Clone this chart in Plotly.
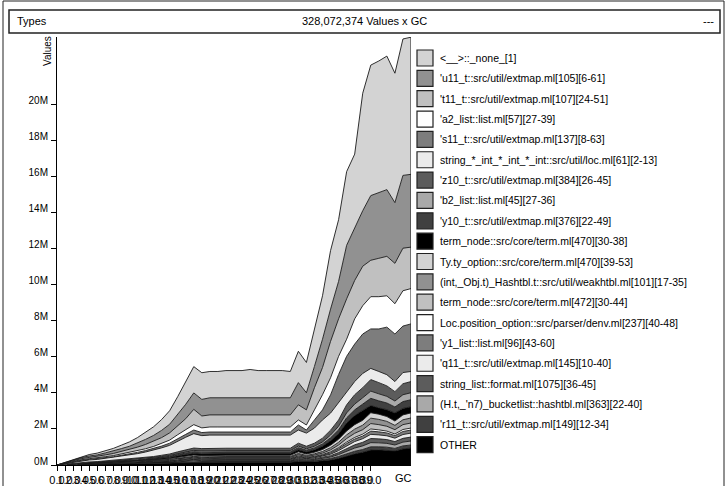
import plotly.graph_objects as go

# ---------------- data (values in millions) ----------------
gc = list(range(45))
x_tick_vals = list(range(40))
x_tick_text = [f"{v}.0" for v in x_tick_vals]
y_tick_vals = [0, 2, 4, 6, 8, 10, 12, 14, 16, 18, 20]
y_tick_text = ["0M", "2M", "4M", "6M", "8M", "10M", "12M", "14M", "16M", "18M", "20M"]

names = [
    "<__>::_none_[1]",
    "'u11_t::src/util/extmap.ml[105][6-61]",
    "'t11_t::src/util/extmap.ml[107][24-51]",
    "'a2_list::list.ml[57][27-39]",
    "'s11_t::src/util/extmap.ml[137][8-63]",
    "string_*_int_*_int_*_int::src/util/loc.ml[61][2-13]",
    "'z10_t::src/util/extmap.ml[384][26-45]",
    "'b2_list::list.ml[45][27-36]",
    "'y10_t::src/util/extmap.ml[376][22-49]",
    "term_node::src/core/term.ml[470][30-38]",
    "Ty.ty_option::src/core/term.ml[470][39-53]",
    "(int,_Obj.t)_Hashtbl.t::src/util/weakhtbl.ml[101][17-35]",
    "term_node::src/core/term.ml[472][30-44]",
    "Loc.position_option::src/parser/denv.ml[237][40-48]",
    "'y1_list::list.ml[96][43-60]",
    "'q11_t::src/util/extmap.ml[145][10-40]",
    "string_list::format.ml[1075][36-45]",
    "(H.t,_'n7)_bucketlist::hashtbl.ml[363][22-40]",
    "'r11_t::src/util/extmap.ml[149][12-34]",
    "OTHER",
]

none_v = [0, .01, .03, .06, .08, .10, .12, .15, .19, .24, .30, .38, .48, .60, .75, .98, 1.25,
          1.46, 1.48, 1.46, 1.46, 1.51, 1.51, 1.51, 1.57, 1.51, 1.51, 1.51, 1.51, 1.46,
          1.74, 1.68, 2.08, 2.41, 3.25, 3.42, 4.09, 4.09, 6.52, 7.24, 7.30, 7.41, 7.18, 7.57, 7.61]
u11_v = [0, .02, .04, .06, .08, .09, .11, .13, .16, .19, .23, .28, .33, .40, .48, .63, .80,
         .91, .92, .95, .95, .95, .95, .95, .95, .95, .95, .95, .95, .95,
         1.23, .95, 1.18, 1.57, 1.79, 2.08, 2.97, 2.92, 3.08, 3.59, 3.65, 3.70, 3.37, 4.04, 4.04]
t11_v = [0, .02, .04, .06, .07, .08, .10, .12, .14, .17, .20, .24, .28, .33, .40, .50, .62,
         .85, .66, .67, .67, .67, .67, .67, .67, .67, .67, .67, .67, .67,
         .84, .84, 1.23, 1.51, 2.02, 2.08, 2.24, 2.13, 2.19, 2.02, 2.13, 2.19, 2.24, 2.36, 2.30]
a2_v = [0, .01, .02, .03, .04, .04, .05, .06, .07, .08, .09, .10, .12, .14, .17, .21, .25,
        .30, .26, .28, .28, .28, .28, .28, .28, .28, .28, .28, .28, .28,
        .28, .28, .56, .84, .95, 1.01, .95, 1.40, 1.57, 1.79, 1.79, 1.74, 1.68, 1.96, 1.96]
s11_v = [0, .01, .02, .03, .03, .04, .04, .05, .05, .06, .07, .08, .09, .10, .12, .14, .16,
         .20, .17, .17, .17, .17, .17, .17, .17, .17, .17, .17, .17, .17,
         .28, .17, .45, .56, 1.01, 1.57, 1.96, 2.08, 2.19, 2.19, 2.36, 2.64, 2.64, 2.58, 2.64]
str3_v = [0, .03, .06, .09, .11, .12, .14, .16, .19, .22, .26, .30, .35, .41, .48, .60, .70,
          .80, .72, .73, .73, .73, .73, .73, .73, .73, .73, .73, .73, .73,
          .73, .73, .84, 1.01, .95, .95, .73, .73, .79, .62, .62, .62, .56, .62, .56]
z10_v = [0, .01, .01, .02, .02, .02, .03, .03, .04, .04, .05, .05, .06, .07, .08, .10, .12, .13, .13,
         .13, .13, .13, .13, .13, .13, .13, .13, .13, .13, .13,
         .16, .14, .17, .21, .27, .35, .45, .52, .56, .64, .62, .58, .52, .61, .62]
b2_v = [0, 0, .01, .01, .01, .01, .02, .02, .02, .02, .03, .03, .03, .04, .05, .05, .06, .07, .07,
        .07, .07, .07, .07, .07, .07, .07, .07, .07, .07, .07,
        .09, .08, .09, .11, .15, .20, .27, .32, .35, .40, .39, .37, .33, .38, .39]
y10_v = [0, 0, .01, .01, .01, .02, .02, .02, .03, .03, .03, .04, .04, .05, .06, .07, .08, .09, .09,
         .09, .09, .09, .09, .09, .09, .09, .09, .09, .09, .09,
         .11, .10, .10, .13, .17, .22, .28, .32, .35, .40, .39, .37, .33, .38, .39]
tn470_v = [0, .01, .01, .01, .02, .02, .02, .02, .03, .03, .04, .04, .05, .06, .06, .08, .09, .10, .10,
           .10, .10, .10, .10, .10, .10, .10, .10, .10, .10, .10,
           .12, .11, .14, .18, .24, .30, .45, .50, .55, .40, .35, .38, .45, .36, .34]
tyopt_v = [0, 0, 0, .01, .01, .01, .02, .02, .02, .02, .03, .03, .03, .04, .05, .06, .06, .07, .07,
           .07, .07, .07, .07, .07, .07, .07, .07, .07, .07, .07,
           .09, .08, .09, .11, .14, .17, .22, .25, .27, .30, .29, .27, .24, .27, .28]
intobj_v = [0, 0, 0, .01, .01, .01, .01, .01, .01, .02, .02, .02, .02, .03, .03, .04, .05, .05, .05,
            .05, .05, .05, .05, .05, .05, .05, .05, .05, .05, .05,
            .07, .06, .07, .09, .12, .15, .20, .23, .25, .30, .29, .27, .24, .27, .28]
tn472_v = [0, 0, 0, .01, .01, .01, .01, .01, .02, .02, .02, .02, .02, .03, .03, .04, .04, .05, .05,
           .05, .05, .05, .05, .05, .05, .05, .05, .05, .05, .05,
           .07, .05, .07, .08, .11, .15, .20, .23, .25, .30, .29, .27, .24, .27, .28]
locpos_v = [0, 0, 0, 0, 0, .01, .01, .01, .01, .01, .01, .01, .02, .02, .02, .02, .03, .03, .03,
            .03, .03, .03, .03, .03, .03, .03, .03, .03, .03, .03,
            .04, .03, .03, .04, .05, .06, .08, .09, .10, .12, .11, .10, .09, .11, .11]
y1_v = [0, 0, 0, 0, .01, .01, .01, .01, .01, .01, .01, .02, .02, .02, .03, .03, .04, .04, .04,
        .04, .04, .04, .04, .04, .04, .04, .04, .04, .04, .04,
        .05, .04, .05, .06, .08, .10, .12, .14, .15, .18, .17, .16, .14, .17, .17]
q11_v = [0, 0, 0, 0, .01, .01, .01, .01, .01, .01, .02, .02, .02, .02, .03, .03, .04, .04, .04,
         .04, .04, .04, .04, .04, .04, .04, .04, .04, .04, .04,
         .05, .04, .05, .06, .08, .11, .15, .18, .20, .23, .22, .21, .19, .21, .22]
strlist_v = [0, 0, .01, .01, .01, .01, .01, .01, .01, .01, .01, .02, .02, .02, .02, .03, .03, .04, .04,
             .04, .04, .04, .04, .04, .04, .04, .04, .04, .04, .04,
             .06, .05, .05, .06, .08, .11, .15, .18, .20, .23, .22, .21, .19, .21, .22]
bucket_v = [0, 0, 0, 0, 0, 0, .01, .01, .01, .01, .01, .01, .02, .02, .02, .02, .03, .03, .03,
            .03, .03, .03, .03, .03, .03, .03, .03, .03, .03, .03,
            .05, .04, .05, .06, .08, .11, .15, .18, .20, .23, .22, .21, .19, .21, .22]
r11_v = [0, 0, 0, .01, .01, .01, .01, .01, .01, .01, .01, .02, .02, .02, .03, .03, .04, .04, .04,
         .04, .04, .04, .04, .04, .04, .04, .04, .04, .04, .04,
         .05, .04, .05, .06, .08, .10, .12, .14, .15, .18, .17, .16, .14, .17, .17]
other_v = [0, .03, .03, .04, .04, .04, .04, .06, .07, .08, .08, .09, .10, .10, .10, .13, .13, .16, .13,
           .15, .15, .15, .15, .15, .15, .15, .15, .15, .15, .15,
           .20, .18, .20, .24, .28, .37, .50, .62, .71, .83, .84, .83, .78, .89, .94]

series = [none_v, u11_v, t11_v, a2_v, s11_v, str3_v, z10_v, b2_v, y10_v, tn470_v,
          tyopt_v, intobj_v, tn472_v, locpos_v, y1_v, q11_v, strlist_v, bucket_v, r11_v, other_v]

palette = ["#d3d3d3", "#919191", "#c0c0c0", "#ffffff", "#7d7d7d",
           "#ebebeb", "#5c5c5c", "#a9a9a9", "#404040", "#000000"]

# ---------------- layout geometry (pixels) ----------------
W, H = 727, 486
L, R, T, B = 57, 411, 37, 465
Y_TOP = 23.75
FONT = "Liberation Sans, Arial, Helvetica, sans-serif"


def xp(px):
    return (px - L) / (R - L)


def yp(py):
    return (B - py) / (B - T)


fig = go.Figure()

# stacked areas: bottom (OTHER) first
for k in range(len(series) - 1, -1, -1):
    fig.add_trace(go.Scatter(
        x=gc, y=series[k], name=names[k], stackgroup="one", mode="lines",
        line=dict(color="#1a1a1a", width=0.9, shape="linear"),
        fillcolor=palette[k % 10], showlegend=False, hoverinfo="skip",
    ))

# right edge of the stacked polygon
total_last = sum(s[-1] for s in series)
fig.add_trace(go.Scatter(x=[gc[-1], gc[-1]], y=[0, total_last], mode="lines",
                         line=dict(color="#1a1a1a", width=1), showlegend=False, hoverinfo="skip"))

shapes = []
annotations = []

# outer frame and title box
shapes.append(dict(type="rect", xref="paper", yref="paper", x0=xp(3), x1=xp(724), y0=yp(488), y1=yp(1),
                   line=dict(color="#222", width=1), fillcolor="rgba(0,0,0,0)", layer="above"))
shapes.append(dict(type="rect", xref="paper", yref="paper", x0=xp(9), x1=xp(720), y0=yp(33), y1=yp(10),
                   line=dict(color="#222", width=1.5), fillcolor="rgba(0,0,0,0)", layer="above"))

annotations.append(dict(text="Types", xref="paper", yref="paper", x=xp(15), y=yp(21),
                        xanchor="left", yanchor="middle", showarrow=False, font=dict(size=11, color="black", family=FONT)))
annotations.append(dict(text="328,072,374 Values x GC", xref="paper", yref="paper", x=xp(364), y=yp(21),
                        xanchor="center", yanchor="middle", showarrow=False, font=dict(size=11, color="black", family=FONT)))
annotations.append(dict(text="---", xref="paper", yref="paper", x=xp(716), y=yp(21),
                        xanchor="right", yanchor="middle", showarrow=False, font=dict(size=11, color="black", family=FONT)))
annotations.append(dict(text="Values", xref="paper", yref="paper", x=xp(48), y=yp(51), textangle=-90,
                        xanchor="center", yanchor="middle", showarrow=False, font=dict(size=10, color="black", family=FONT)))
annotations.append(dict(text="GC", xref="paper", yref="paper", x=xp(403), y=yp(478),
                        xanchor="center", yanchor="middle", showarrow=False, font=dict(size=11, color="black", family=FONT)))

# legend (custom: square swatches)
row0, step = 58.0, 20.35
for k, nm in enumerate(names):
    cy = row0 + step * k
    shapes.append(dict(type="rect", xref="paper", yref="paper", x0=xp(417), x1=xp(433),
                       y0=yp(cy + 8), y1=yp(cy - 8), line=dict(color="#222", width=1.2),
                       fillcolor=palette[k % 10], layer="above"))
    annotations.append(dict(text=nm.replace("<", "&lt;").replace(">", "&gt;"), xref="paper", yref="paper",
                            x=xp(438), y=yp(cy), xanchor="left", yanchor="middle", showarrow=False,
                            font=dict(size=10.5, color="black", family=FONT)))

fig.update_layout(
    width=W, height=H,
    margin=dict(l=L, r=W - R, t=T, b=H - B, pad=0, autoexpand=False),
    paper_bgcolor="white", plot_bgcolor="white",
    font=dict(family=FONT, size=10, color="black"),
    shapes=shapes, annotations=annotations,
    showlegend=False,
)
fig.update_xaxes(range=[0, 44], tickmode="array", tickvals=x_tick_vals, ticktext=x_tick_text,
                 tickangle=0, ticks="outside", ticklen=5, tickcolor="black", tickwidth=1,
                 showline=True, linecolor="black", linewidth=1, showgrid=False, zeroline=False,
                 automargin=False, tickfont=dict(size=11, family=FONT, color="black"))
fig.update_yaxes(range=[0, Y_TOP], tickmode="array", tickvals=y_tick_vals, ticktext=y_tick_text,
                 ticks="outside", ticklen=5, tickcolor="black", tickwidth=1,
                 showline=True, linecolor="black", linewidth=1, showgrid=False, zeroline=False,
                 ticklabelshift=-4, ticklabelstandoff=1, automargin=False,
                 tickfont=dict(size=10, family=FONT, color="black"))

fig.write_html("out.html", config={"displayModeBar": False},
               post_script="document.body.style.margin='0';document.body.style.overflow='hidden';")
